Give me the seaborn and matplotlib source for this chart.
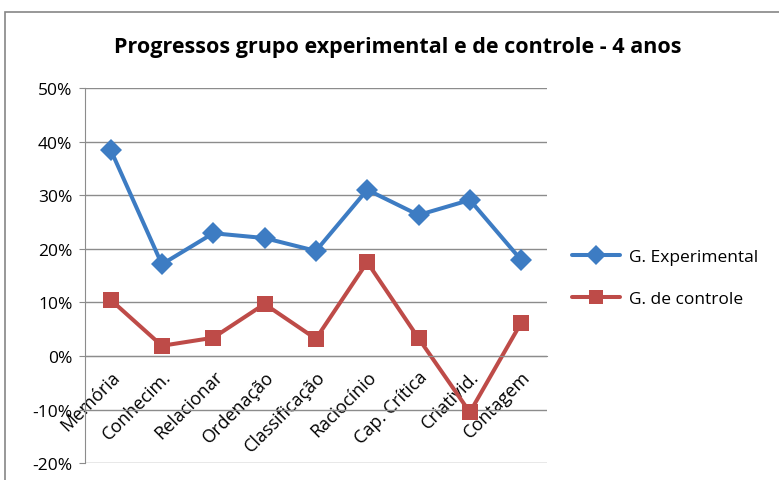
import pandas as pd
import matplotlib.pyplot as plt
import seaborn as sns
from matplotlib.patches import Rectangle
from matplotlib.ticker import PercentFormatter

categorias = ['Memória', 'Conhecim.', 'Relacionar', 'Ordenação', 'Classificação',
              'Raciocínio', 'Cap. Crítica', 'Criativid.', 'Contagem']
experimental = [38.5, 17.1, 22.9, 22.0, 19.6, 31.0, 26.3, 29.1, 17.9]
controle = [10.5, 1.9, 3.4, 9.7, 3.2, 17.5, 3.3, -10.5, 6.2]

df = pd.DataFrame({
    'categoria': categorias * 2,
    'valor': experimental + controle,
    'grupo': ['G. Experimental'] * 9 + ['G. de controle'] * 9,
})

sns.set_style('white')
plt.rcParams['font.family'] = ['Open Sans', 'DejaVu Sans']
plt.rcParams['axes.unicode_minus'] = False
plt.rcParams['text.color'] = 'black'
plt.rcParams['xtick.color'] = 'black'
plt.rcParams['ytick.color'] = 'black'

fig = plt.figure(figsize=(7.79, 4.81), dpi=100)
ax = fig.add_axes([0.109, 0.035, 0.593, 0.78])

# Moldura do gráfico
fig.patches.append(Rectangle((5 / 779, -0.1), 1.2, 1 - 13 / 481 + 0.1,
                             transform=fig.transFigure, fill=False,
                             edgecolor='#868686', linewidth=1.2))

sns.lineplot(data=df, x='categoria', y='valor', hue='grupo', style='grupo',
             palette=['#3D7CC3', '#BE4B48'], markers=['D', 's'], dashes=False,
             markersize=11.5, markeredgewidth=0, linewidth=2.9, sort=False, ax=ax)

ax.set_ylim(-20, 50)
ax.set_xlim(-0.5, 8.5)
ax.set_yticks(range(-20, 51, 10))
ax.yaxis.set_major_formatter(PercentFormatter(decimals=0))
ax.grid(axis='y', color='#8c8c8c', linewidth=1)
ax.set_axisbelow(True)
ax.set_xlabel('')
ax.set_ylabel('')

for s in ['top', 'right']:
    ax.spines[s].set_visible(False)
ax.spines['left'].set_color('#8c8c8c')
ax.spines['bottom'].set_position(('data', 0))
ax.spines['bottom'].set_color('#8c8c8c')

ax.tick_params(axis='y', labelsize=12.5, length=4, color='#8c8c8c', labelcolor='black',
               left=True, pad=5)
ax.tick_params(axis='x', labelsize=13, length=0, pad=8, labelcolor='black')
plt.setp(ax.get_xticklabels(), rotation=45, ha='right', rotation_mode='anchor')

fig.text(398 / 779, 1 - 47 / 481, 'Progressos grupo experimental e de controle - 4 anos',
         fontsize=15.5, fontweight='bold', ha='center', va='center', color='black')

leg = ax.legend(loc='center left', bbox_to_anchor=(0.714, 0.42),
                bbox_transform=fig.transFigure, frameon=False, fontsize=12.5,
                handlelength=2.8, labelspacing=1.5, handletextpad=0.5)
for h in leg.legend_handles:
    h.set_markersize(10.5)
for t in leg.get_texts():
    t.set_color('black')

fig.savefig('out.png', dpi=100)
